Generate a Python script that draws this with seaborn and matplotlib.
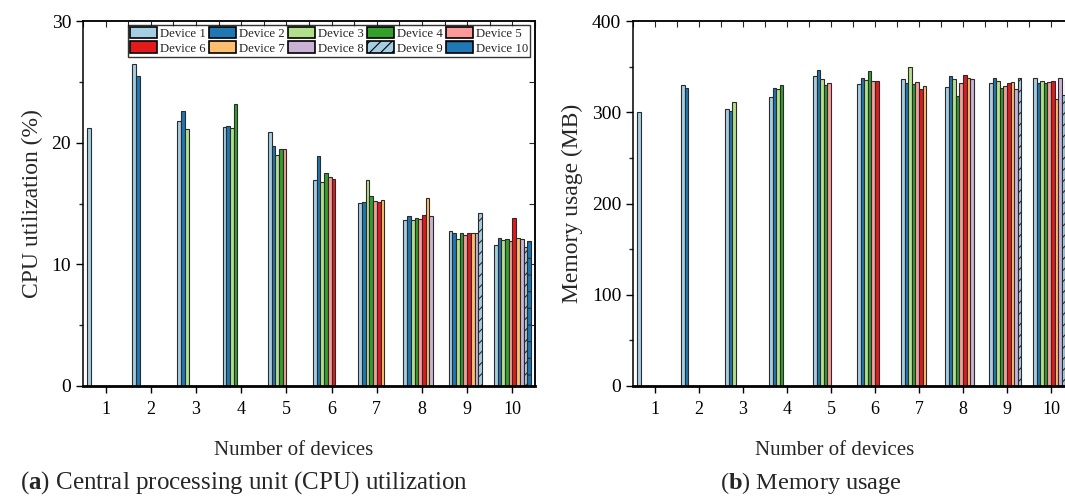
import numpy as np
import pandas as pd
import matplotlib
matplotlib.use("Agg")
import matplotlib.pyplot as plt
from matplotlib.patches import Patch
from matplotlib.ticker import MultipleLocator
import seaborn as sns

# ---- data -------------------------------------------------------------
n_devices = [str(i) for i in range(1, 11)]
device_names = [f"Device {i}" for i in range(1, 11)]

# CPU utilization (%) per device, one row per fleet size (1..10 devices)
cpu_rows = [
    [21.2],
    [26.5, 25.5],
    [21.8, 22.6, 21.1],
    [21.3, 21.4, 21.2, 23.2],
    [20.9, 19.7, 19.0, 19.45, 19.5],
    [16.9, 18.9, 16.8, 17.5, 17.2, 17.0],
    [15.05, 15.1, 16.9, 15.65, 15.2, 15.15, 15.25],
    [13.65, 14.0, 13.65, 13.8, 13.7, 14.05, 15.45, 13.95],
    [12.75, 12.6, 12.1, 12.6, 12.45, 12.6, 12.6, 12.6, 14.25],
    [11.6, 12.2, 12.0, 12.1, 11.9, 13.8, 12.15, 12.1, 11.4, 11.95],
]

# Memory usage (MB) per device
mem_rows = [
    [300],
    [330, 327],
    [304, 301, 311],
    [317, 327, 326, 330],
    [340, 346, 336, 329.5, 332],
    [330.5, 338, 335, 345.5, 334, 334],
    [336, 332, 350, 331, 333, 325.5, 329],
    [327.5, 339.5, 336, 318, 332, 341, 337, 336],
    [332, 338, 334, 327, 329, 332, 333, 326, 337],
    [337, 332, 334, 332, 333, 334, 314.5, 338, 319, 335],
]

colors = ["#a6cee3", "#1f78b4", "#b2df8a", "#33a02c", "#fb9a99",
          "#e31a1c", "#fdbf6f", "#cab2d6", "#a6cee3", "#1f78b4"]
hatches = [None] * 8 + ["///", "-"]


def to_long(rows, value_name):
    recs = []
    for n, row in zip(n_devices, rows):
        for dev, v in zip(device_names, row):
            recs.append({"n": n, "device": dev, value_name: v})
    return pd.DataFrame(recs)


cpu_df = to_long(cpu_rows, "cpu")
mem_df = to_long(mem_rows, "mem")

# ---- style ------------------------------------------------------------
sns.set_theme(style="ticks")
plt.rcParams["font.family"] = ["Liberation Serif", "DejaVu Serif"]
plt.rcParams["mathtext.fontset"] = "custom"
plt.rcParams["mathtext.rm"] = "Liberation Serif"
plt.rcParams["mathtext.bf"] = "Liberation Serif:bold"
plt.rcParams["hatch.linewidth"] = 0.8

W, H = 1065, 497
fig = plt.figure(figsize=(W / 100, H / 100), dpi=100)

ax_cpu = fig.add_axes([83 / W, 1 - 386 / H, 452 / W, 365 / H])
ax_mem = fig.add_axes([633 / W, 1 - 386 / H, 440 / W, 365 / H])

edge = "#2b2b2b"


def draw(ax, df, col, ymax, ystep, ylabel, xlabel_x):
    sns.barplot(data=df, x="n", y=col, hue="device", order=n_devices,
                hue_order=device_names, palette=colors, width=0.82,
                gap=0, dodge=True, ax=ax, legend=False,
                edgecolor=edge, linewidth=0.8, errorbar=None, saturation=1)
    for cont, h in zip(ax.containers, hatches):
        if h:
            for bar in cont:
                bar.set_hatch(h)
    ax.set_xlim(-0.5, 9.5)
    ax.set_ylim(0, ymax)
    ax.yaxis.set_major_locator(MultipleLocator(ystep))
    ax.yaxis.set_minor_locator(MultipleLocator(ystep / 2))
    ax.tick_params(axis="both", which="major", direction="out", length=5,
                   width=1, labelsize=14, colors="black")
    ax.tick_params(axis="y", which="minor", direction="out", length=3,
                   width=1)
    ax.tick_params(axis="x", labelsize=13, pad=6)
    ax.set_ylabel(ylabel, fontsize=17, labelpad=6)
    ax.set_xlabel("Number of devices", fontsize=15)
    ax.xaxis.set_label_coords(xlabel_x, -0.15)
    for s in ax.spines.values():
        s.set_linewidth(1.1)
        s.set_color("black")
    ax.spines["bottom"].set_linewidth(2)
    # inward ticks on the top edge
    top = ax.secondary_xaxis("top")
    top.set_xticks(np.arange(-0.5, 10, 0.5))
    top.tick_params(direction="in", length=4, width=0.8, labeltop=False)
    top.spines["top"].set_linewidth(1.1)


draw(ax_cpu, cpu_df, "cpu", 30, 10, "CPU utilization (%)", 0.467)
draw(ax_mem, mem_df, "mem", 400, 100, "Memory usage (MB)", 0.459)

# the CPU panel is closed on the right with inward ticks
right = ax_cpu.secondary_yaxis("right")
right.set_yticks(np.arange(0, 31, 5))
right.tick_params(direction="in", length=4, width=0.8, labelright=False)
ax_mem.spines["right"].set_visible(False)

# legend filled row by row: Device 1-5 on top, Device 6-10 below
handles = [Patch(facecolor=c, edgecolor="black", linewidth=1.2, hatch=h)
           for c, h in zip(colors, hatches)]
order = [0, 5, 1, 6, 2, 7, 3, 8, 4, 9]
leg = ax_cpu.legend([handles[i] for i in order],
                    [device_names[i] for i in order],
                    ncol=5, loc="upper right",
                    bbox_to_anchor=(0.99, 0.99), fontsize=9.2,
                    frameon=True, fancybox=False, edgecolor="black",
                    handlelength=2.1, handleheight=1.05, handletextpad=0.25,
                    columnspacing=0.25, borderpad=0.15, labelspacing=0.12,
                    borderaxespad=0)
leg.get_frame().set_linewidth(1.0)

fig.text(20 / W, 1 - 483 / H,
         r"($\mathbf{a}$) Central processing unit (CPU) utilization",
         fontsize=18, va="center", ha="left")
fig.text(720 / W, 1 - 483 / H, r"($\mathbf{b}$) Memory usage",
         fontsize=17.5, va="center", ha="left")

fig.savefig("out.png", dpi=100)
